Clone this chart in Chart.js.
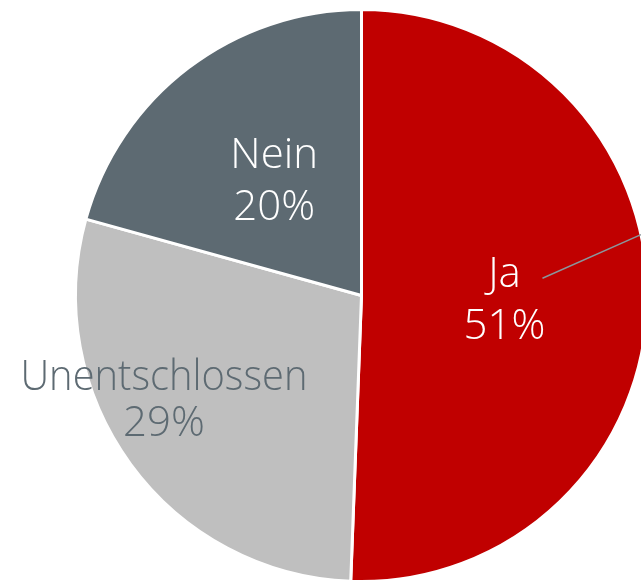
<!DOCTYPE html>
<html>
<head>
<meta charset="utf-8">
<script src="https://cdn.jsdelivr.net/npm/chart.js@4"></script>
<style>
  html, body { margin: 0; padding: 0; background: #fff; overflow: hidden; width: 641px; height: 580px; }
  #wrap { position: absolute; left: 0; top: 0; width: 723px; height: 590px; }
</style>
</head>
<body>
<div id="wrap"><canvas id="pieChart"></canvas></div>
<script>
const labels = ["Ja", "Unentschlossen", "Nein"];
const values = [50.6, 28.7, 20.7];
const percentText = ["51%", "29%", "20%"];
const sliceColors = ["#c00000", "#bfbfbf", "#5d6a72"];
const textColors = ["#ffffff", "#5d6a72", "#ffffff"];

// label placement: fraction of radius along the mid angle, plus a nudge
const labelRadius = [0.5, 0.78, 0.51];
const labelNudge = [[0, 0], [-17.5, -26], [1, 0]];
const lineGap = [52, 46, 52];
const maxTextWidth = [null, 287, null];

const pieLabels = {
  id: 'pieLabels',
  afterDatasetsDraw(chart) {
    const ctx = chart.ctx;
    const meta = chart.getDatasetMeta(0);
    ctx.save();
    ctx.font = '300 42px "Open Sans", sans-serif';
    ctx.textAlign = 'center';
    ctx.textBaseline = 'alphabetic';
    meta.data.forEach((arc, i) => {
      const p = arc.getProps(['x', 'y', 'startAngle', 'endAngle', 'outerRadius'], true);
      const mid = (p.startAngle + p.endAngle) / 2;
      const r = p.outerRadius * labelRadius[i];
      const px = p.x + Math.cos(mid) * r + labelNudge[i][0];
      const py = p.y + Math.sin(mid) * r + labelNudge[i][1];
      ctx.fillStyle = textColors[i];
      if (maxTextWidth[i]) {
        ctx.fillText(labels[i], px, py - 11, maxTextWidth[i]);
      } else {
        ctx.fillText(labels[i], px, py - 11);
      }
      ctx.fillText(percentText[i], px, py - 11 + lineGap[i]);

      if (i === 0) {
        // leader line from label to the outer edge
        const a = -12.3 * Math.PI / 180;
        ctx.strokeStyle = '#8a969c';
        ctx.lineWidth = 1.5;
        ctx.beginPath();
        ctx.moveTo(px + 38, py - 20);
        ctx.lineTo(p.x + Math.cos(a) * p.outerRadius, p.y + Math.sin(a) * p.outerRadius);
        ctx.stroke();
      }
    });
    ctx.restore();
  }
};

new Chart(document.getElementById('pieChart'), {
  type: 'pie',
  data: {
    labels: labels,
    datasets: [{
      data: values,
      backgroundColor: sliceColors,
      borderColor: '#ffffff',
      borderWidth: 3
    }]
  },
  options: {
    responsive: true,
    maintainAspectRatio: false,
    animation: false,
    layout: { padding: { top: 8, bottom: 7, left: 0, right: 0 } },
    plugins: {
      legend: { display: false },
      tooltip: { enabled: false }
    }
  },
  plugins: [pieLabels]
});
</script>
</body>
</html>
